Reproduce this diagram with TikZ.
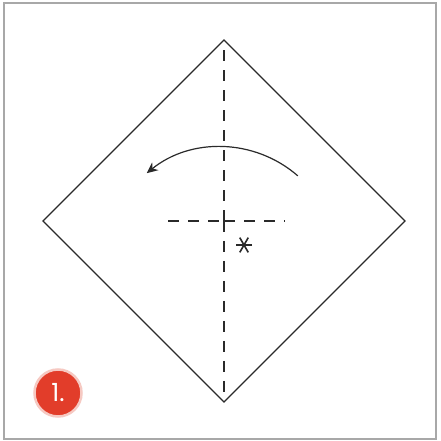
\documentclass[tikz,border=0pt]{standalone}
\usepackage{fontspec}
\setmainfont{Poppins}
\usetikzlibrary{arrows.meta}
\definecolor{framegray}{HTML}{A8A8A8}
\definecolor{badgered}{HTML}{E23D2A}
\definecolor{badgehalo}{HTML}{F6C9C2}
\definecolor{ink}{HTML}{2A2A2A}
\tikzset{
  frameline/.style={draw=framegray, line width=1.3pt},
  paper/.style={draw=ink, line width=1.2pt, line join=miter},
  foldline/.style={draw=ink, line width=1.2pt, dash pattern=on 11pt off 9pt},
  movearrow/.style={draw=ink, line width=1.2pt, -{Stealth[length=11pt,width=10pt]}},
  starline/.style={draw=ink, line width=1.6pt},
  badge/.style={circle, fill=badgered, draw=badgehalo, line width=2.5pt, minimum size=47pt, inner sep=0pt, text=white, font=\fontsize{25}{25}\selectfont}
}
\begin{document}
\begin{tikzpicture}[x=1pt,y=1pt]
\useasboundingbox (0,0) rectangle (440,441);
\fill[white] (0,0) rectangle (440,441);
\draw[frameline] (4,2) rectangle (436,438);
% diamond
\coordinate (T) at (224,401);
\coordinate (B) at (224,39);
\coordinate (L) at (43,220);
\coordinate (R) at (405,220);
\coordinate (C) at (224,220);
\draw[paper] (T) -- (R) -- (B) -- (L) -- cycle;
% fold lines
\draw[foldline] (C) -- (T);
\draw[foldline] (C) -- (B);
\coordinate (HL) at (168,220);
\coordinate (HR) at (285,220);
\draw[foldline] (C) -- (HR);
\draw[foldline] (HL) -- (C);
% arrow
\coordinate (AO) at (220.7,176.5);
\draw[movearrow] ([shift={(49:117.5)}]AO) arc[start angle=49, end angle=129, radius=117.5];
% asterisk
\coordinate (S) at (244,196);
\draw[starline] ([shift={(0:8)}]S) -- ([shift={(180:8)}]S);
\draw[starline] ([shift={(60:8.5)}]S) -- ([shift={(240:8.5)}]S);
\draw[starline] ([shift={(120:8.5)}]S) -- ([shift={(300:8.5)}]S);
% badge
\node[badge] (num) at (58,48) {1.};
\end{tikzpicture}
\end{document}
